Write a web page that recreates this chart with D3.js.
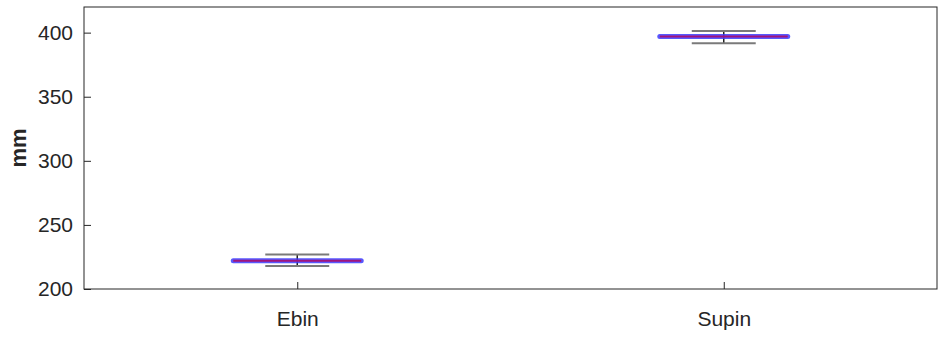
<!DOCTYPE html>
<html>
<head>
<meta charset="utf-8">
<script src="https://cdn.jsdelivr.net/npm/d3@7"></script>
<style>
  html, body { margin: 0; padding: 0; background: #fff; }
  svg { display: block; }
  text { font-family: "Liberation Sans", Arial, Helvetica, sans-serif; }
</style>
</head>
<body>
<svg id="chart" width="940" height="339"></svg>
<script>
// Group names and their summary statistics (mm)
const categories = ["Ebin", "Supin"];
const means = [222, 397];
const upper = [227, 401.2];
const lower = [218, 391.8];
const yTicks = [200, 250, 300, 350, 400];

const W = 940, H = 339;
const margin = { left: 84, right: 3, top: 7, bottom: 50 };
const svg = d3.select("#chart");

const x = d3.scaleLinear().domain([0.5, categories.length + 0.5])
  .range([margin.left, W - margin.right]);
const y = d3.scaleLinear().domain([200, 420])
  .range([H - margin.bottom, margin.top]);

const axisColor = "#262626";

// Frame
svg.append("rect")
  .attr("x", margin.left).attr("y", margin.top)
  .attr("width", W - margin.right - margin.left)
  .attr("height", H - margin.bottom - margin.top)
  .attr("fill", "none").attr("stroke", axisColor).attr("stroke-width", 1);

// Y axis
const yAxis = svg.append("g")
  .attr("transform", `translate(${margin.left},0)`)
  .call(d3.axisLeft(y).tickValues(yTicks).tickSize(-7).tickPadding(11));
yAxis.select(".domain").remove();
yAxis.selectAll("line").attr("stroke", axisColor);
yAxis.selectAll("text").attr("fill", axisColor).style("font-size", "21px");

// X axis
const xAxis = svg.append("g")
  .attr("transform", `translate(0,${H - margin.bottom})`)
  .call(d3.axisBottom(x).tickValues(categories.map((d, i) => i + 1))
    .tickFormat((d) => categories[d - 1]).tickSize(-7).tickPadding(22));
xAxis.select(".domain").remove();
xAxis.selectAll("line").attr("stroke", axisColor);
xAxis.selectAll("text").attr("fill", axisColor).style("font-size", "21px");

// Y label
svg.append("text")
  .attr("transform", `translate(26,${(margin.top + H - margin.bottom) / 2}) rotate(-90)`)
  .attr("text-anchor", "middle")
  .attr("fill", axisColor)
  .style("font-size", "22px").style("font-weight", "bold")
  .text("mm");

// Error bars
const capHalf = 0.075, lineHalf = 0.15;
const g = svg.append("g");
categories.forEach((c, i) => {
  const cx = i + 1;
  g.append("line")
    .attr("x1", x(cx)).attr("x2", x(cx))
    .attr("y1", y(upper[i])).attr("y2", y(lower[i]))
    .attr("stroke", "#222").attr("stroke-width", 1.5);
  [upper[i], lower[i]].forEach((v) => {
    g.append("line")
      .attr("x1", x(cx - capHalf)).attr("x2", x(cx + capHalf))
      .attr("y1", y(v)).attr("y2", y(v))
      .attr("stroke", "#7a7a7a").attr("stroke-width", 2);
  });
  // Mean line: blue halo with magenta core
  g.append("line")
    .attr("x1", x(cx - lineHalf)).attr("x2", x(cx + lineHalf))
    .attr("y1", y(means[i])).attr("y2", y(means[i]))
    .attr("stroke", "#3b3bff").attr("stroke-opacity", 0.85)
    .attr("stroke-width", 5).attr("stroke-linecap", "round");
  g.append("line")
    .attr("x1", x(cx - lineHalf)).attr("x2", x(cx + lineHalf))
    .attr("y1", y(means[i])).attr("y2", y(means[i]))
    .attr("stroke", "#a0147c").attr("stroke-width", 2);
});
</script>
</body>
</html>
